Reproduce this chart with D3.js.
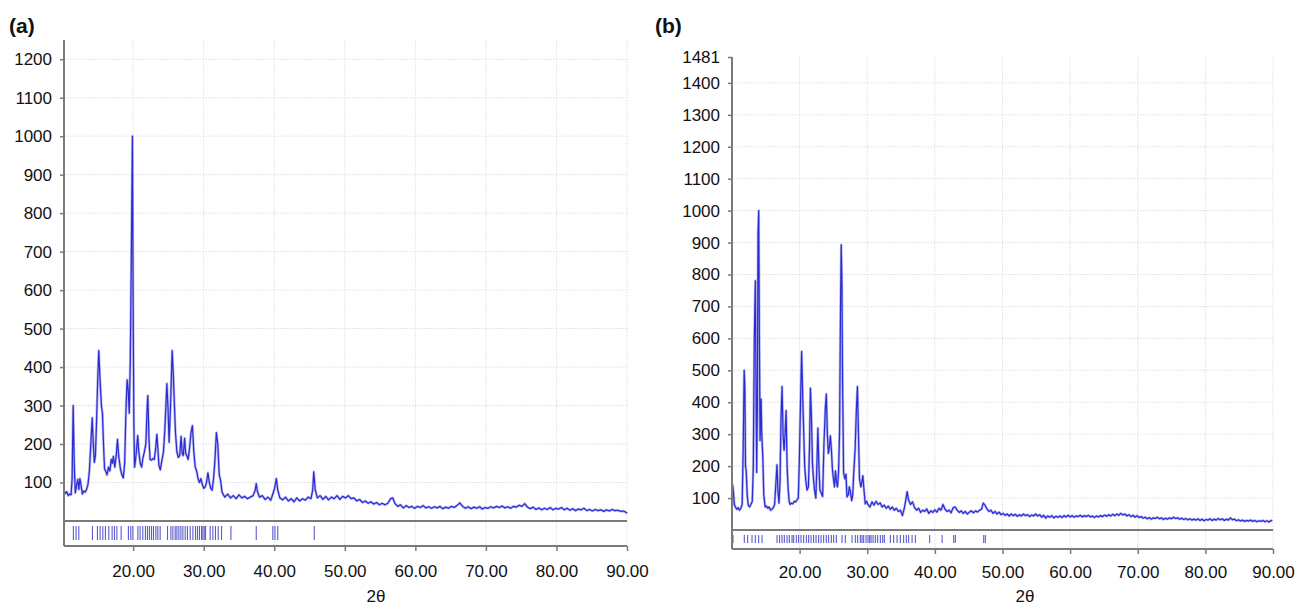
<!DOCTYPE html>
<html>
<head>
<meta charset="utf-8">
<script src="https://cdn.jsdelivr.net/npm/d3@7"></script>
<style>
  body { margin: 0; background: #fff; }
  svg { display: block; font-family: "Liberation Sans", Arial, sans-serif; }
</style>
</head>
<body>
<div id="chart"></div>
<script>
// pattern (a): [2theta, counts]
const patternA = [
  [10.2, 78], [10.4, 72], [10.6, 76], [10.8, 66], [11.0, 70], [11.2, 68], [11.35, 110], [11.5, 300], [11.65, 150],
  [11.8, 73], [12.0, 95], [12.15, 108], [12.3, 82], [12.45, 110], [12.6, 96], [12.8, 70], [13.0, 78], [13.2, 75],
  [13.4, 82], [13.6, 95], [13.8, 130], [14.0, 200], [14.2, 268], [14.35, 200], [14.5, 152], [14.65, 170], [14.8, 250],
  [15.0, 380], [15.13, 443], [15.3, 370], [15.5, 300], [15.65, 280], [15.8, 200], [15.95, 135], [16.1, 130], [16.3, 120],
  [16.5, 140], [16.7, 130], [16.9, 160], [17.05, 150], [17.2, 168], [17.4, 140], [17.6, 170], [17.78, 212], [17.95, 170],
  [18.2, 135], [18.4, 120], [18.6, 112], [18.8, 150], [19.0, 300], [19.15, 367], [19.3, 340], [19.45, 280], [19.6, 420],
  [19.75, 700], [19.9, 1000], [20.0, 560], [20.1, 260], [20.2, 140], [20.35, 160], [20.5, 190], [20.65, 222], [20.8, 180],
  [21.0, 150], [21.2, 140], [21.4, 165], [21.6, 180], [21.8, 200], [22.0, 300], [22.08, 326], [22.25, 210], [22.4, 160],
  [22.6, 158], [22.8, 162], [23.0, 160], [23.2, 190], [23.36, 225], [23.5, 190], [23.65, 145], [23.85, 133], [24.1, 160],
  [24.3, 180], [24.5, 240], [24.78, 357], [24.95, 290], [25.1, 205], [25.3, 300], [25.53, 443], [25.7, 380], [25.85, 300],
  [26.0, 230], [26.2, 180], [26.4, 165], [26.6, 170], [26.8, 220], [26.95, 175], [27.1, 170], [27.3, 215], [27.45, 175],
  [27.6, 170], [27.8, 160], [28.0, 190], [28.2, 230], [28.4, 248], [28.6, 180], [28.8, 140], [29.0, 130], [29.2, 110],
  [29.4, 100], [29.6, 110], [29.8, 95], [30.0, 85], [30.2, 88], [30.4, 100], [30.6, 125], [30.8, 100], [31.0, 85],
  [31.2, 80], [31.4, 110], [31.6, 160], [31.8, 230], [32.0, 200], [32.2, 120], [32.4, 105], [32.6, 75], [32.8, 68],
  [33.0, 62], [33.4, 70], [33.8, 60], [34.2, 66], [34.6, 58], [35.0, 68], [35.4, 60], [35.8, 64], [36.2, 58], [36.6, 62],
  [37.0, 66], [37.3, 80], [37.45, 97], [37.6, 78], [37.9, 62], [38.3, 66], [38.7, 56], [39.1, 62], [39.5, 54], [39.8, 70],
  [40.05, 85], [40.3, 110], [40.5, 80], [40.8, 60], [41.2, 55], [41.6, 62], [42.0, 52], [42.4, 58], [42.8, 50], [43.2, 60],
  [43.6, 52], [44.0, 58], [44.4, 54], [44.8, 62], [45.2, 58], [45.45, 80], [45.6, 128], [45.8, 82], [46.1, 60], [46.5, 66],
  [46.9, 56], [47.3, 64], [47.7, 55], [48.1, 62], [48.5, 58], [48.9, 66], [49.3, 56], [49.7, 64], [50.1, 60], [50.5, 66],
  [50.9, 58], [51.3, 60], [51.7, 52], [52.1, 56], [52.5, 48], [52.9, 52], [53.3, 46], [53.7, 50], [54.1, 44], [54.5, 48],
  [54.9, 42], [55.3, 46], [55.7, 42], [56.1, 46], [56.5, 58], [56.8, 60], [57.1, 46], [57.5, 38], [57.9, 42], [58.3, 34],
  [58.7, 40], [59.1, 35], [59.5, 38], [59.9, 33], [60.3, 38], [60.7, 35], [61.1, 40], [61.5, 34], [61.9, 37], [62.3, 33],
  [62.7, 37], [63.1, 34], [63.5, 38], [63.9, 32], [64.3, 36], [64.7, 33], [65.1, 38], [65.5, 35], [65.9, 40], [66.3, 47],
  [66.7, 38], [67.1, 33], [67.5, 37], [67.9, 32], [68.3, 36], [68.7, 33], [69.1, 37], [69.5, 31], [69.9, 35], [70.3, 33],
  [70.7, 37], [71.1, 34], [71.5, 38], [71.9, 35], [72.3, 39], [72.7, 34], [73.1, 37], [73.5, 33], [73.9, 38], [74.3, 36],
  [74.7, 41], [75.1, 38], [75.5, 45], [75.9, 36], [76.3, 32], [76.7, 36], [77.1, 30], [77.5, 34], [77.9, 29], [78.3, 33],
  [78.7, 30], [79.1, 35], [79.5, 29], [79.9, 33], [80.3, 31], [80.7, 35], [81.1, 29], [81.5, 33], [81.9, 28], [82.3, 32],
  [82.7, 27], [83.1, 31], [83.5, 29], [83.9, 33], [84.3, 27], [84.7, 30], [85.1, 26], [85.5, 30], [85.9, 27], [86.3, 29],
  [86.7, 25], [87.1, 29], [87.5, 26], [87.9, 30], [88.3, 27], [88.7, 28], [89.1, 25], [89.5, 26], [89.9, 22], [90.0, 20]
];

const reflectionsA = [
  11.53, 11.91, 12.3, 14.23, 14.94, 15.32, 15.7, 16.07, 16.55, 17.02, 17.35, 17.69, 18.3, 19.33, 19.67, 19.96,
  20.67, 20.99, 21.37, 21.74, 22.03, 22.31, 22.6, 22.88, 23.22, 23.5, 23.83, 24.87, 25.35, 25.63, 25.96, 26.2,
  26.48, 26.77, 27.05, 27.38, 27.7, 28.09, 28.47, 28.84, 29.12, 29.4, 29.69, 29.88, 30.07, 30.26, 30.92, 31.3,
  31.67, 32.06, 32.53, 33.86, 37.45, 39.8, 40.1, 40.5, 45.67
];

// pattern (b): [2theta, counts]
const patternB = [
  [10.0, 95], [10.1, 140], [10.2, 120], [10.35, 80], [10.5, 72], [10.7, 65], [10.9, 70], [11.1, 62], [11.3, 68],
  [11.5, 80], [11.65, 250], [11.8, 500], [11.9, 450], [12.0, 200], [12.1, 185], [12.25, 110], [12.4, 78], [12.6, 72],
  [12.8, 80], [13.0, 90], [13.15, 200], [13.3, 600], [13.45, 780], [13.55, 460], [13.65, 180], [13.75, 400], [13.85, 930],
  [13.95, 1000], [14.05, 600], [14.15, 280], [14.3, 410], [14.4, 300], [14.55, 230], [14.7, 110], [14.9, 72], [15.1, 75],
  [15.3, 68], [15.5, 72], [15.7, 62], [15.9, 65], [16.1, 70], [16.3, 80], [16.5, 150], [16.65, 204], [16.8, 120],
  [16.95, 84], [17.1, 150], [17.25, 350], [17.4, 449], [17.55, 300], [17.7, 250], [17.85, 300], [18.0, 374], [18.15, 200],
  [18.3, 130], [18.45, 90], [18.6, 80], [18.8, 84], [19.0, 82], [19.2, 90], [19.4, 88], [19.6, 94], [19.8, 100],
  [19.95, 210], [20.15, 420], [20.3, 559], [20.45, 420], [20.6, 310], [20.75, 200], [20.9, 157], [21.1, 125], [21.3, 135],
  [21.45, 250], [21.6, 444], [21.75, 350], [21.9, 210], [22.05, 160], [22.2, 125], [22.4, 100], [22.55, 200], [22.7, 319],
  [22.85, 200], [23.0, 125], [23.2, 115], [23.4, 105], [23.6, 270], [23.8, 380], [23.95, 426], [24.1, 300], [24.25, 240],
  [24.4, 260], [24.55, 295], [24.7, 250], [24.85, 190], [25.0, 160], [25.15, 135], [25.3, 185], [25.45, 150], [25.6, 135],
  [25.75, 180], [25.9, 300], [26.05, 700], [26.15, 893], [26.25, 780], [26.35, 470], [26.5, 178], [26.7, 160], [26.85, 175],
  [27.0, 104], [27.2, 110], [27.35, 135], [27.5, 120], [27.7, 92], [27.85, 110], [28.0, 178], [28.2, 250], [28.4, 380],
  [28.55, 449], [28.7, 300], [28.85, 160], [29.05, 135], [29.2, 150], [29.35, 170], [29.5, 130], [29.7, 82], [29.9, 90],
  [30.1, 80], [30.4, 72], [30.7, 88], [31.0, 78], [31.3, 90], [31.6, 80], [31.9, 85], [32.2, 72], [32.5, 78], [32.8, 68],
  [33.1, 75], [33.4, 65], [33.7, 72], [34.0, 62], [34.3, 68], [34.6, 58], [34.9, 62], [35.2, 45], [35.5, 70], [35.75, 100],
  [35.9, 120], [36.1, 95], [36.4, 80], [36.7, 88], [37.0, 70], [37.3, 62], [37.6, 68], [37.9, 55], [38.2, 62], [38.5, 58],
  [38.8, 66], [39.1, 52], [39.4, 60], [39.7, 55], [40.0, 63], [40.3, 56], [40.6, 68], [40.9, 62], [41.2, 80], [41.5, 65],
  [41.8, 58], [42.1, 62], [42.4, 54], [42.7, 70], [43.0, 72], [43.3, 62], [43.6, 55], [43.9, 60], [44.2, 52], [44.5, 58],
  [44.8, 50], [45.1, 56], [45.4, 60], [45.7, 54], [46.0, 60], [46.3, 56], [46.6, 62], [46.9, 65], [47.15, 84], [47.4, 78],
  [47.7, 66], [48.0, 58], [48.3, 62], [48.6, 52], [48.9, 58], [49.2, 50], [49.5, 56], [49.8, 48], [50.1, 52], [50.4, 46],
  [50.7, 50], [51.0, 44], [51.3, 50], [51.6, 45], [51.9, 49], [52.2, 43], [52.5, 48], [52.8, 44], [53.1, 50], [53.4, 45],
  [53.7, 48], [54.0, 42], [54.3, 47], [54.6, 44], [54.9, 50], [55.2, 44], [55.5, 48], [55.8, 40], [56.1, 46], [56.4, 37],
  [56.7, 44], [57.0, 40], [57.3, 45], [57.6, 38], [57.9, 43], [58.2, 40], [58.5, 44], [58.8, 39], [59.1, 45], [59.4, 41],
  [59.7, 46], [60.0, 41], [60.3, 45], [60.6, 40], [60.9, 44], [61.2, 42], [61.5, 46], [61.8, 41], [62.1, 45], [62.4, 42],
  [62.7, 46], [63.0, 41], [63.3, 44], [63.6, 39], [63.9, 44], [64.2, 41], [64.5, 45], [64.8, 42], [65.1, 47], [65.4, 43],
  [65.7, 48], [66.0, 44], [66.3, 49], [66.6, 45], [66.9, 50], [67.2, 46], [67.5, 52], [67.8, 47], [68.1, 50], [68.4, 44],
  [68.7, 48], [69.0, 42], [69.3, 46], [69.6, 40], [69.9, 45], [70.2, 39], [70.5, 42], [70.8, 37], [71.1, 40], [71.4, 35],
  [71.7, 39], [72.0, 34], [72.3, 38], [72.6, 36], [72.9, 40], [73.2, 35], [73.5, 38], [73.8, 33], [74.1, 37], [74.4, 34],
  [74.7, 38], [75.0, 35], [75.3, 40], [75.6, 36], [75.9, 38], [76.2, 34], [76.5, 37], [76.8, 33], [77.1, 36], [77.4, 32],
  [77.7, 35], [78.0, 31], [78.3, 34], [78.6, 31], [78.9, 35], [79.2, 30], [79.5, 34], [79.8, 29], [80.1, 33], [80.4, 31],
  [80.7, 35], [81.0, 30], [81.3, 34], [81.6, 31], [81.9, 36], [82.2, 32], [82.5, 35], [82.8, 30], [83.1, 34], [83.4, 31],
  [83.7, 38], [84.0, 32], [84.3, 34], [84.6, 29], [84.9, 32], [85.2, 28], [85.5, 31], [85.8, 27], [86.1, 30], [86.4, 28],
  [86.7, 31], [87.0, 27], [87.3, 30], [87.6, 26], [87.9, 29], [88.2, 27], [88.5, 30], [88.8, 26], [89.1, 29], [89.4, 25],
  [89.7, 30], [89.9, 28]
];

const reflectionsB = [
  10.15, 11.82, 12.31, 12.96, 13.45, 13.94, 14.44, 16.66, 17.04, 17.4, 17.74, 18.14, 18.48, 18.88, 19.11, 19.51,
  19.85, 20.21, 20.59, 20.99, 21.33, 21.69, 22.07, 22.43, 22.81, 23.17, 23.55, 23.95, 24.29, 24.69, 25.03, 25.43,
  26.27, 26.76, 27.75, 28.24, 28.58, 28.98, 29.23, 29.47, 29.82, 30.12, 30.36, 30.56, 30.86, 31.2, 31.54, 31.94,
  32.28, 32.53, 33.42, 33.9, 34.41, 34.9, 35.38, 35.78, 36.12, 36.63, 37.12, 39.23, 41.07, 42.78, 43.03, 47.22, 47.47
];

const yTicksA = [100, 200, 300, 400, 500, 600, 700, 800, 900, 1000, 1100, 1200];
const yTicksB = [100, 200, 300, 400, 500, 600, 700, 800, 900, 1000, 1100, 1200, 1300, 1400, 1481];
const xTicks = [20, 30, 40, 50, 60, 70, 80, 90];

const width = 1301, height = 608;

const svg = d3.select("#chart")
  .append("svg")
  .attr("width", width)
  .attr("height", height)
  .attr("viewBox", [0, 0, width, height]);

const panels = [
  {label: "(a)", labelX: 9, data: patternA, refl: reflectionsA, yTicks: yTicksA,
   xDomain: [10.2, 90], yMax: 1250, left: 64, right: 627, top: 40, base: 521, bottom: 546, titleX: 376, pad: 14},
  {label: "(b)", labelX: 655, data: patternB, refl: reflectionsB, yTicks: yTicksB,
   xDomain: [10, 90], yMax: 1481, left: 732, right: 1273, top: 57, base: 530, bottom: 549, titleX: 1025, pad: 12}
];

const axisColor = "#7a7a7a";
const gridColor = "#e6e6e6";

panels.forEach(p => {
  const x = d3.scaleLinear().domain(p.xDomain).range([p.left, p.right]);
  const y = d3.scaleLinear().domain([0, p.yMax]).range([p.base, p.top]);

  const line = d3.line().x(d => x(d[0])).y(d => y(d[1]));

  const g = svg.append("g");

  // grid
  g.append("g")
    .attr("stroke", gridColor)
    .attr("stroke-dasharray", "2,1")
    .call(g => g.selectAll("line.h")
      .data(p.yTicks.filter(d => d < 1481))
      .join("line")
      .attr("x1", p.left)
      .attr("x2", p.right)
      .attr("y1", d => y(d))
      .attr("y2", d => y(d)))
    .call(g => g.selectAll("line.v")
      .data(xTicks)
      .join("line")
      .attr("x1", d => x(d))
      .attr("x2", d => x(d))
      .attr("y1", p.top)
      .attr("y2", p.bottom));

  // diffraction pattern: soft halo under a sharper core, like the scanned trace
  g.append("path")
    .datum(p.data)
    .attr("fill", "none")
    .attr("stroke", "#9a9ae4")
    .attr("stroke-opacity", 0.7)
    .attr("stroke-width", 2.6)
    .attr("stroke-linejoin", "round")
    .attr("d", line);

  g.append("path")
    .datum(p.data)
    .attr("fill", "none")
    .attr("stroke", "#2a2ad6")
    .attr("stroke-width", 1.2)
    .attr("stroke-linejoin", "round")
    .attr("d", line);

  // reflection markers
  g.append("g")
    .attr("stroke", "#5c5cd0")
    .attr("stroke-width", 1.1)
    .selectAll("line")
    .data(p.refl)
    .join("line")
    .attr("x1", d => x(d))
    .attr("x2", d => x(d))
    .attr("y1", p.base + 5)
    .attr("y2", p.bottom - 6);

  // frame lines
  g.append("g")
    .attr("stroke", axisColor)
    .attr("stroke-width", 2)
    .call(g => g.append("line").attr("x1", p.left).attr("x2", p.right).attr("y1", p.base).attr("y2", p.base))
    .call(g => g.append("line").attr("x1", p.left).attr("x2", p.right).attr("y1", p.bottom).attr("y2", p.bottom))
    .call(g => g.append("line").attr("x1", p.left).attr("x2", p.left).attr("y1", p.top).attr("y2", p.bottom));

  // y axis
  g.append("g")
    .attr("transform", `translate(${p.left},0)`)
    .call(d3.axisLeft(y).tickValues(p.yTicks).tickSize(4).tickPadding(8).tickFormat(d3.format("d")))
    .call(g => g.select(".domain").remove())
    .call(g => g.selectAll(".tick line").attr("stroke", axisColor).attr("stroke-width", 1.5))
    .call(g => g.selectAll("text").attr("font-size", 17).attr("fill", "#111").attr("font-family", "Liberation Sans, Arial, sans-serif"));

  // x axis
  g.append("g")
    .attr("transform", `translate(0,${p.bottom})`)
    .call(d3.axisBottom(x).tickValues(xTicks).tickSize(5).tickPadding(p.pad).tickFormat(d3.format(".2f")))
    .call(g => g.select(".domain").remove())
    .call(g => g.selectAll(".tick line").attr("stroke", axisColor).attr("stroke-width", 1.5))
    .call(g => g.selectAll("text").attr("font-size", 17).attr("fill", "#111").attr("font-family", "Liberation Sans, Arial, sans-serif"));

  // axis title
  g.append("text")
    .attr("x", p.titleX)
    .attr("y", 602)
    .attr("text-anchor", "middle")
    .attr("font-size", 17)
    .attr("fill", "#111")
    .text("2θ");

  // panel label
  g.append("text")
    .attr("x", p.labelX)
    .attr("y", 33)
    .attr("font-size", 21)
    .attr("font-weight", "bold")
    .attr("fill", "#111")
    .text(p.label);
});
</script>
</body>
</html>
